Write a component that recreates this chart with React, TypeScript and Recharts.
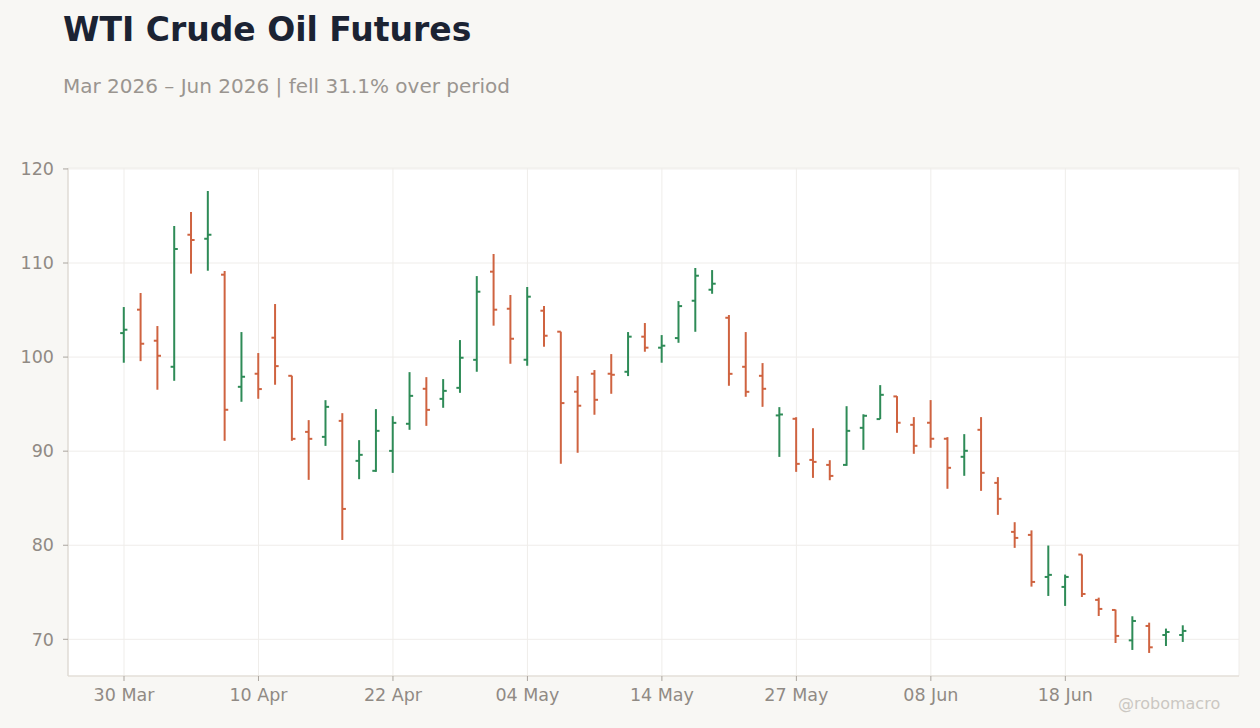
import { ComposedChart, Bar, XAxis, YAxis, CartesianGrid } from 'recharts'

// daily OHLC
const OPEN = [
  102.55, 105.04, 101.74, 98.97, 113.01, 112.59, 108.76, 96.84, 98.23, 102.06,
  98.01, 92.05, 91.52, 93.22, 88.97, 87.91, 90.03, 92.91, 96.63, 95.56,
  96.73, 99.71, 109.08, 105.14, 99.72, 104.93, 102.7, 96.32, 98.23, 98.23,
  98.44, 102.17, 101.0, 102.02, 105.99, 107.16, 104.18, 98.97, 98.01, 93.8,
  93.44, 89.07, 88.54, 88.54, 92.48, 93.41, 95.82, 92.8, 93.02, 91.32,
  89.4, 92.27, 86.63, 81.42, 81.1, 76.63, 75.57, 79.01, 74.19, 73.12,
  69.89, 71.42, 70.46, 70.46,
]
const HIGH = [
  105.32, 106.81, 103.3, 113.94, 115.43, 117.66, 109.15, 102.66, 100.43, 105.64,
  98.02, 93.3, 95.42, 94.04, 91.17, 94.47, 93.72, 98.4, 97.87, 97.66,
  101.81, 108.61, 110.96, 106.6, 107.45, 105.43, 102.7, 97.98, 98.62, 100.32,
  102.66, 103.62, 102.34, 105.95, 109.47, 109.25, 104.47, 102.66, 99.36, 94.68,
  93.61, 92.44, 89.04, 94.78, 93.92, 97.02, 95.85, 93.62, 95.43, 91.49,
  91.81, 93.62, 87.24, 82.45, 81.58, 79.97, 76.88, 79.01, 74.43, 73.16,
  72.45, 71.77, 71.14, 71.49,
]
const LOW = [
  99.4, 99.57, 96.53, 97.48, 108.87, 109.18, 91.1, 95.25, 95.57, 97.06,
  91.1, 86.95, 90.56, 80.56, 87.02, 87.8, 87.69, 92.27, 92.69, 94.61,
  96.2, 98.44, 103.34, 99.29, 99.08, 101.1, 88.66, 89.83, 93.87, 96.1,
  97.98, 100.57, 99.4, 101.52, 102.69, 106.73, 96.95, 95.78, 94.71, 89.39,
  87.8, 87.16, 86.91, 88.44, 90.14, 93.41, 91.95, 89.72, 90.36, 86.0,
  87.38, 85.78, 83.23, 79.72, 75.6, 74.61, 73.55, 74.5, 72.48, 69.61,
  68.87, 68.55, 69.29, 69.72,
]
const CLOSE = [
  102.91, 101.42, 100.14, 111.49, 112.45, 113.01, 94.4, 97.91, 96.6, 99.04,
  91.31, 91.31, 94.71, 83.86, 89.61, 92.16, 93.01, 95.88, 94.39, 96.41,
  99.93, 106.95, 105.04, 101.95, 106.42, 102.27, 95.11, 94.83, 95.46, 98.12,
  102.17, 101.0, 101.21, 105.42, 108.65, 107.8, 98.22, 96.31, 96.63, 93.9,
  88.65, 88.86, 87.37, 92.16, 93.76, 95.99, 93.02, 90.57, 91.32, 88.23,
  90.04, 87.7, 84.93, 80.78, 76.1, 76.85, 76.63, 74.82, 73.23, 70.36,
  71.95, 69.15, 70.78, 70.89,
]

// bar index -> date label shown on the x axis
const TICK_LABELS: Record<number, string> = {
  0: '30 Mar', 8: '10 Apr', 16: '22 Apr', 24: '04 May',
  32: '14 May', 40: '27 May', 48: '08 Jun', 56: '18 Jun',
}
const Y_TICKS = [70, 80, 90, 100, 110, 120]

const UP = '#2e8b57'
const DOWN = '#cf6340'
const TEXT = '#908a84'
const FRAME = '#ddd8d0'
const FONT = '"DejaVu Sans", sans-serif'

const data = OPEN.map((open, i) => ({
  idx: i,
  open,
  high: HIGH[i],
  low: LOW[i],
  close: CLOSE[i],
  range: [LOW[i], HIGH[i]],
}))

function OhlcShape(props: any) {
  const { x, y, width, height, payload } = props
  if (x == null || y == null) return null
  const top = Math.min(y, y + height)
  const bottom = Math.max(y, y + height)
  const span = payload.high - payload.low || 1
  const px = (bottom - top) / span
  const cx = x + width / 2
  const oy = top + (payload.high - payload.open) * px
  const cy = top + (payload.high - payload.close) * px
  const color = payload.close >= payload.open ? UP : DOWN
  const tick = 3.6
  return (
    <g stroke={color} strokeWidth={2} fill="none">
      <line x1={cx} x2={cx} y1={top} y2={bottom} />
      <line x1={cx - tick} x2={cx} y1={oy} y2={oy} />
      <line x1={cx} x2={cx + tick} y1={cy} y2={cy} />
    </g>
  )
}

export default function App() {
  return (
    <div
      style={{
        position: 'absolute',
        top: 0,
        left: 0,
        width: 1260,
        height: 728,
        background: '#f8f7f4',
        fontFamily: FONT,
        overflow: 'hidden',
      }}
    >
      <div
        style={{
          position: 'absolute',
          left: 63,
          top: 9.5,
          fontSize: 33,
          fontWeight: 'bold',
          color: '#1b2333',
          whiteSpace: 'nowrap',
        }}
      >
        WTI Crude Oil Futures
      </div>
      <div
        style={{
          position: 'absolute',
          left: 63,
          top: 73.5,
          fontSize: 20,
          color: '#9a9590',
          whiteSpace: 'nowrap',
        }}
      >
        Mar 2026 – Jun 2026 | fell 31.1% over period
      </div>

      <ComposedChart
        width={1260}
        height={728}
        data={data}
        margin={{ top: 168, right: 21, bottom: 22, left: 8 }}
        style={{ position: 'absolute', top: 0, left: 0 }}
      >
        <CartesianGrid stroke="#efedea" strokeWidth={1} fill="#ffffff" />
        <XAxis
          dataKey="idx"
          type="category"
          interval={7}
          padding={{ left: 47.6, right: 47.6 }}
          height={30}
          tickFormatter={(i) => TICK_LABELS[i] ?? ''}
          tick={{ fill: TEXT, fontSize: 17.5, fontFamily: FONT }}
          tickSize={5}
          tickMargin={8}
          tickLine={{ stroke: '#aaa59f' }}
          axisLine={{ stroke: FRAME, strokeWidth: 1.2 }}
        />
        <XAxis
          xAxisId="top"
          dataKey="idx"
          orientation="top"
          height={0}
          tick={false}
          tickLine={false}
          axisLine={{ stroke: FRAME, strokeWidth: 1.2 }}
        />
        <YAxis
          type="number"
          domain={[66.1, 120.1]}
          ticks={Y_TICKS}
          allowDataOverflow
          width={60}
          tick={{ fill: TEXT, fontSize: 17.5, fontFamily: FONT }}
          tickSize={5}
          tickMargin={9}
          tickLine={{ stroke: '#aaa59f' }}
          axisLine={{ stroke: FRAME, strokeWidth: 1.2 }}
        />
        <YAxis
          yAxisId="right"
          orientation="right"
          domain={[66.1, 120.1]}
          width={0}
          tick={false}
          tickLine={false}
          axisLine={{ stroke: FRAME, strokeWidth: 1.2 }}
        />
        <Bar
          dataKey="range"
          shape={<OhlcShape />}
          isAnimationActive={false}
        />
      </ComposedChart>

      <div
        style={{
          position: 'absolute',
          left: 1118,
          top: 694,
          fontSize: 16,
          color: '#cbc7c2',
          whiteSpace: 'nowrap',
        }}
      >
        @robomacro
      </div>
    </div>
  )
}
